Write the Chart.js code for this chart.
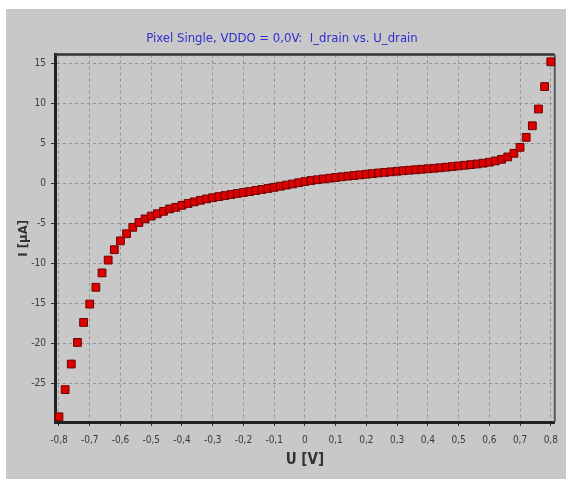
<!DOCTYPE html>
<html>
<head>
<meta charset="utf-8">
<script src="https://cdn.jsdelivr.net/npm/chart.js@4.4.1/dist/chart.umd.min.js"></script>
<style>
  html, body { margin: 0; padding: 0; background: #fff; }
  #panel { position: absolute; left: 6px; top: 9px; width: 560px; height: 470px; background: #c8c8c8; }
</style>
</head>
<body>
<div id="panel"><canvas id="chart" width="560" height="470"></canvas></div>
<script>
const uDrain = [
  -0.80, -0.78, -0.76, -0.74, -0.72, -0.70, -0.68, -0.66, -0.64, -0.62,
  -0.60, -0.58, -0.56, -0.54, -0.52, -0.50, -0.48, -0.46, -0.44, -0.42,
  -0.40, -0.38, -0.36, -0.34, -0.32, -0.30, -0.28, -0.26, -0.24, -0.22,
  -0.20, -0.18, -0.16, -0.14, -0.12, -0.10, -0.08, -0.06, -0.04, -0.02,
  0.00, 0.02, 0.04, 0.06, 0.08, 0.10, 0.12, 0.14, 0.16, 0.18,
  0.20, 0.22, 0.24, 0.26, 0.28, 0.30, 0.32, 0.34, 0.36, 0.38,
  0.40, 0.42, 0.44, 0.46, 0.48, 0.50, 0.52, 0.54, 0.56, 0.58,
  0.60, 0.62, 0.64, 0.66, 0.68, 0.70, 0.72, 0.74, 0.76, 0.78, 0.80
];
const iDrain = [
  -29.2, -25.8, -22.6, -19.9, -17.4, -15.1, -13.0, -11.2, -9.6, -8.3,
  -7.2, -6.3, -5.5, -4.9, -4.45, -4.1, -3.8, -3.5, -3.2, -3.0,
  -2.75, -2.52, -2.32, -2.12, -1.95, -1.8, -1.66, -1.53, -1.4, -1.27,
  -1.15, -1.03, -0.9, -0.77, -0.64, -0.5, -0.36, -0.22, -0.08, 0.08,
  0.22, 0.35, 0.45, 0.55, 0.64, 0.73, 0.82, 0.9, 0.98, 1.06,
  1.14, 1.22, 1.3, 1.37, 1.44, 1.51, 1.58, 1.64, 1.7, 1.76,
  1.82, 1.88, 1.95, 2.02, 2.1, 2.18, 2.26, 2.34, 2.42, 2.52,
  2.64, 2.8, 3.0, 3.3, 3.75, 4.5, 5.75, 7.2, 9.3, 12.1, 15.2
];
const xTicks = [-0.8, -0.7, -0.6, -0.5, -0.4, -0.3, -0.2, -0.1, 0, 0.1, 0.2, 0.3, 0.4, 0.5, 0.6, 0.7, 0.8];
const yTicks = [-25, -20, -15, -10, -5, 0, 5, 10, 15];

const narrow = "'DejaVu Sans Condensed', 'Liberation Sans Narrow', sans-serif";

// top and right edges of the plot frame
const frame = {
  id: 'frame',
  beforeDatasetsDraw(chart) {
    const { ctx, chartArea: a } = chart;
    ctx.save();
    ctx.strokeStyle = '#333';
    ctx.lineWidth = 2.5;
    ctx.beginPath();
    ctx.moveTo(a.left, a.top);
    ctx.lineTo(a.right, a.top);
    ctx.stroke();
    ctx.strokeStyle = '#5a5a5a';
    ctx.lineWidth = 2;
    ctx.beginPath();
    ctx.moveTo(a.right, a.top);
    ctx.lineTo(a.right, a.bottom);
    ctx.stroke();
    ctx.restore();
  }
};

new Chart(document.getElementById('chart'), {
  type: 'scatter',
  data: {
    datasets: [{
      data: uDrain.map((u, i) => ({ x: u, y: iDrain[i] })),
      pointStyle: 'rect',
      pointRadius: 5.5,
      pointHoverRadius: 5.5,
      backgroundColor: '#dc0000',
      borderColor: '#700000',
      borderWidth: 1,
      clip: false
    }]
  },
  options: {
    responsive: false,
    animation: false,
    layout: { padding: { right: 8 } },
    plugins: {
      legend: { display: false },
      tooltip: { enabled: false },
      title: {
        display: true,
        text: 'Pixel Single, VDDO = 0,0V:  I_drain vs. U_drain',
        color: '#2e2ed0',
        font: { family: narrow, size: 13, weight: 'normal' },
        padding: { top: 22, bottom: 8 }
      }
    },
    scales: {
      x: {
        type: 'linear',
        min: -0.813,
        max: 0.813,
        afterBuildTicks: s => { s.ticks = xTicks.map(v => ({ value: v })); },
        afterFit: s => { s.height = 57; },
        grid: { color: '#929292', tickColor: '#333', tickLength: 4, tickBorderDash: [] },
        border: { display: true, color: '#222', width: 3, dash: [3, 3] },
        ticks: {
          color: '#3a3a3a',
          padding: 8,
          maxRotation: 0,
          autoSkip: false,
          font: { family: narrow, size: 10 },
          callback: v => String(v).replace('.', ',')
        },
        title: {
          display: true,
          text: 'U [V]',
          color: '#333',
          font: { family: narrow, size: 15, weight: 'bold' },
          padding: { top: 0, bottom: 10 }
        }
      },
      y: {
        min: -29.85,
        max: 16.1,
        afterBuildTicks: s => { s.ticks = yTicks.map(v => ({ value: v })); },
        afterFit: s => { s.width = 49; },
        grid: { color: '#929292', tickColor: '#333', tickLength: 4, tickBorderDash: [] },
        border: { display: true, color: '#222', width: 3, dash: [3, 3] },
        ticks: {
          color: '#3a3a3a',
          padding: 5,
          autoSkip: false,
          font: { family: narrow, size: 10 }
        },
        title: {
          display: true,
          text: 'I [µA]',
          color: '#333',
          font: { family: narrow, size: 13, weight: 'bold' },
          padding: { top: 10, bottom: 0 }
        }
      }
    }
  },
  plugins: [frame]
});
</script>
</body>
</html>
